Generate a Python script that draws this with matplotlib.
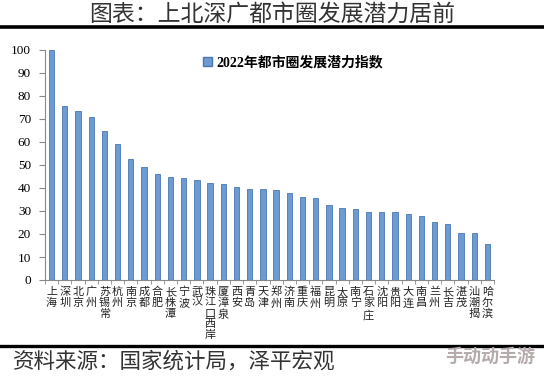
import numpy as np
import matplotlib.pyplot as plt
from matplotlib.lines import Line2D
from matplotlib.patches import Patch

plt.rcParams['font.family'] = ['Noto Sans CJK SC', 'DejaVu Sans']

cities = ['上海', '深圳', '北京', '广州', '苏锡常', '杭州', '南京', '成都', '合肥', '长株潭',
          '宁波', '武汉', '珠江口西岸', '厦漳泉', '西安', '青岛', '天津', '郑州', '济南', '重庆',
          '福州', '昆明', '太原', '南宁', '石家庄', '沈阳', '贵阳', '大连', '南昌', '兰州',
          '长吉', '湛茂', '汕潮揭', '哈尔滨']
index_2022 = [100, 75.8, 73.3, 71.0, 64.8, 59.1, 52.7, 49.0, 46.0, 44.8,
              44.2, 43.3, 42.0, 41.7, 40.3, 39.7, 39.6, 39.1, 37.8, 36.2,
              35.7, 32.5, 31.3, 30.7, 29.7, 29.7, 29.4, 28.7, 27.7, 25.2,
              24.5, 20.3, 20.3, 15.7]
y_ticks = list(range(0, 101, 10))

title = '图表：上北深广都市圈发展潜力居前'
series_name = '2022年都市圈发展潜力指数'
source = '资料来源：国家统计局，泽平宏观'

W, H = 544, 376
fig = plt.figure(figsize=(W / 100, H / 100), dpi=100)

ax = fig.add_axes([45 / W, 1 - 280 / H, (494 - 45) / W, (280 - 50) / H])
x = np.arange(len(cities))
ax.bar(x, index_2022, width=0.4, color='#6b9bd2', edgecolor='#4a78b0', linewidth=0.6, zorder=2)

ax.set_xlim(-0.5, len(cities) - 0.5)
ax.set_ylim(0, 100)
ax.set_yticks(y_ticks)
ax.set_yticklabels([str(v) for v in y_ticks], family='Liberation Serif', fontsize=9.5)
ax.tick_params(axis='y', direction='out', length=4, color='#888888', pad=6)

ax.set_xticks(x)
ax.set_xticklabels(['\n'.join(c) for c in cities], fontsize=8, linespacing=1.1, va='top',
                   color='#222222')
ax.tick_params(axis='x', length=0, pad=5)
ax.set_xticks(np.arange(-0.5, len(cities), 1), minor=True)
ax.tick_params(axis='x', which='minor', direction='out', length=3, color='#888888')

for s in ['top', 'right']:
    ax.spines[s].set_visible(False)
for s in ['left', 'bottom']:
    ax.spines[s].set_color('#888888')
    ax.spines[s].set_linewidth(0.8)

ax.legend(handles=[Patch(facecolor='#6b9bd2', edgecolor='#4a78b0', label=series_name)],
          loc='upper left', bbox_to_anchor=(0.325, 1.03), frameon=False,
          handlelength=0.6, handleheight=0.6, handletextpad=0.3,
          prop={'family': ['Liberation Serif', 'Noto Sans CJK SC'], 'weight': 'bold', 'size': 10})

# title and frame lines
fig.text(0.5, 1 - 14 / H, title, ha='center', va='center', fontsize=16.5, color='#333333',
         fontweight='light')
fig.add_artist(Line2D([0, 1], [1 - 26.5 / H] * 2, color='black', lw=2.6, transform=fig.transFigure))
fig.add_artist(Line2D([0, 1], [1 - 345.5 / H] * 2, color='black', lw=2.4, transform=fig.transFigure))

fig.text(13 / W, 1 - 362 / H, source, ha='left', va='center', fontsize=15.5, color='#333333',
         fontweight='light', style='italic')
fig.text(535 / W, 1 - 356 / H, '手动动手游', ha='right', va='center', fontsize=13,
         color='#b5abab', fontweight='bold')

fig.savefig('out.png', dpi=100)
